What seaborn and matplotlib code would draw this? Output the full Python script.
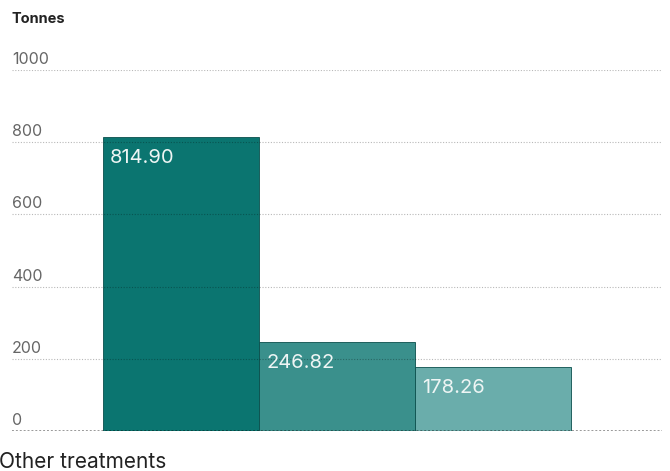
import matplotlib
matplotlib.use("Agg")
import matplotlib.pyplot as plt
import matplotlib.transforms as mtransforms
import seaborn as sns
import pandas as pd

category = ["Other treatments"]
series = ["Series 1", "Series 2", "Series 3"]
values = [814.90, 246.82, 178.26]
yticks = [0, 200, 400, 600, 800, 1000]
colors = ["#0b7570", "#3a908c", "#6aadab"]

df = pd.DataFrame({"category": category * len(series), "series": series, "value": values})

sns.set_theme(style="white")
plt.rcParams["font.family"] = ["Inter", "DejaVu Sans"]

W, H = 670, 471
fig = plt.figure(figsize=(W / 100, H / 100), dpi=100)
ax = fig.add_axes([12 / W, (H - 431) / H, 650 / W, 361 / H])

sns.barplot(data=df, x="category", y="value", hue="series", palette=colors,
            width=0.72, ax=ax, legend=False, edgecolor="#0a4f4c", linewidth=0.6,
            saturation=1)

ax.set_xlim(-0.5, 0.5)
ax.set_ylim(0, 1000)
ax.set_xlabel("")
ax.set_ylabel("")
ax.set_xticks([])
ax.set_yticks([])
for s in ax.spines.values():
    s.set_visible(False)

trans = mtransforms.blended_transform_factory(ax.transAxes, ax.transData)
for v in yticks:
    if v == 0:
        ax.axhline(v, color="#000000", alpha=0.4, lw=1.4, ls=(0, (1, 1)), zorder=3)
    else:
        ax.axhline(v, color="#000000", alpha=0.28, lw=0.8, ls=(0, (1, 1.5)), zorder=3)
    off = mtransforms.offset_copy(trans, fig=fig, x=0, y=3, units="dots")
    ax.text(0, v, str(v), transform=off, ha="left", va="bottom",
            fontsize=11.5, color="#666666")

for p, v in zip(ax.patches, values):
    off = mtransforms.offset_copy(ax.transData, fig=fig, x=7, y=-12, units="dots")
    ax.text(p.get_x(), p.get_height(), f"{v:.2f}", transform=off, ha="left", va="top",
            fontsize=14.5, color="#eef5f4", zorder=4)

fig.text(12 / W, 1 - 19 / H, "Tonnes", ha="left", va="center",
         fontsize=10.5, fontweight="bold", color="#222222")
fig.text(-1 / W, 1 - 462 / H, "Other treatments", ha="left", va="center",
         fontsize=15, color="#222222")

fig.savefig("out.png", dpi=100)
